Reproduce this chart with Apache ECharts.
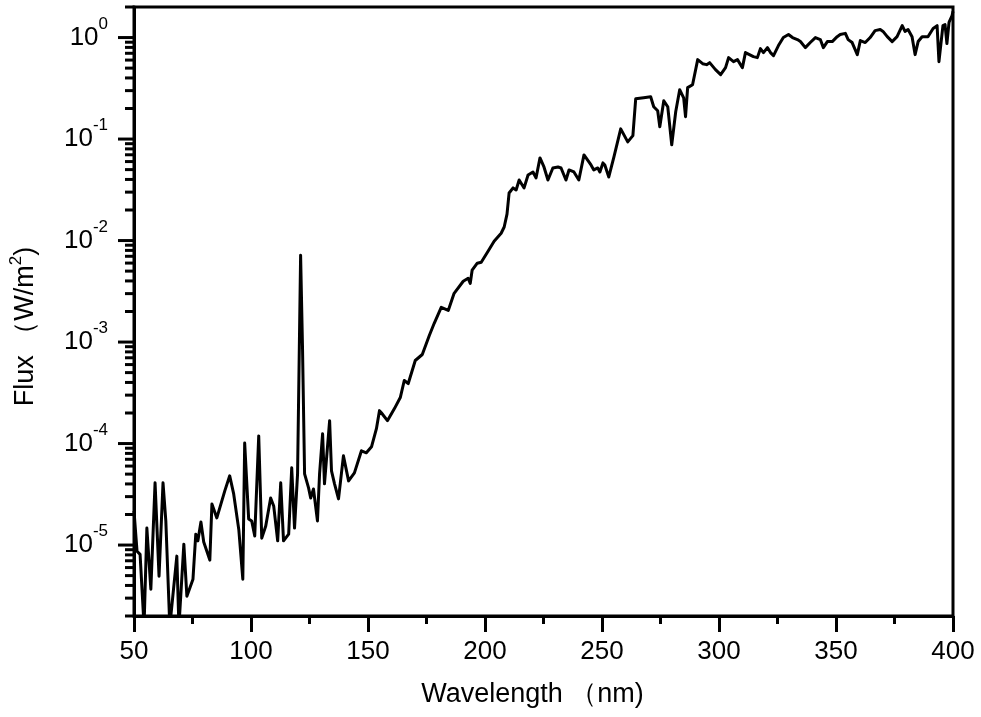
<!DOCTYPE html>
<html>
<head>
<meta charset="utf-8">
<script src="https://cdn.jsdelivr.net/npm/echarts@6/dist/echarts.min.js"></script>
<style>
  html, body { margin: 0; padding: 0; background: #fff; }
  #chart { width: 981px; height: 717px; }
</style>
</head>
<body>
<div id="chart"></div>
<script>
// Wavelength (nm)
const wavelength = [
  50.0, 51.3, 52.6, 54.3, 55.5, 57.2, 59.0, 60.7, 62.4, 63.6,
  65.3, 68.3, 69.2, 71.3, 72.6, 75.2, 76.4, 77.3, 78.6, 79.8,
  82.4, 83.3, 85.4, 88.8, 90.9, 92.6, 94.8, 96.5, 97.3, 99.0,
  100.3, 101.6, 103.3, 104.6, 106.3, 108.4, 109.7, 111.4, 112.7, 113.9,
  116.1, 117.4, 118.6, 119.9, 121.2, 122.0, 122.9, 124.6, 125.5, 126.7,
  128.4, 129.3, 130.6, 131.4, 133.6, 134.4, 135.7, 137.4, 139.5, 141.7,
  144.2, 147.2, 149.3, 151.5, 153.6, 154.9, 155.7, 158.3, 161.3, 163.8,
  165.5, 167.2, 170.2, 173.2, 176.2, 178.3, 181.3, 184.3, 186.8, 190.7,
  192.8, 193.7, 194.5, 196.7, 198.4, 201.3, 203.9, 206.9, 208.2, 209.4,
  210.3, 212.0, 213.3, 214.6, 216.7, 218.4, 220.5, 221.8, 223.5, 225.2,
  226.9, 229.0, 231.2, 232.5, 234.6, 235.9, 238.0, 240.1, 242.3, 245.3,
  246.5, 248.2, 249.1, 250.4, 251.2, 252.9, 255.1, 258.0, 261.0, 263.2,
  264.4, 267.8, 270.8, 272.1, 273.8, 274.7, 276.4, 278.1, 279.8, 281.5,
  283.2, 284.9, 285.7, 286.6, 288.7, 290.9, 293.0, 294.7, 296.0, 298.5,
  300.7, 302.8, 304.1, 306.2, 307.9, 310.0, 311.3, 313.0, 314.7, 316.4,
  317.7, 319.0, 320.7, 322.0, 323.3, 325.4, 327.5, 329.7, 331.4, 333.5,
  334.8, 336.9, 339.0, 341.2, 343.3, 344.6, 346.3, 348.4, 350.5, 351.8,
  354.0, 355.2, 356.9, 359.1, 360.4, 362.5, 364.6, 366.7, 368.9, 370.1,
  371.9, 374.0, 376.1, 378.3, 379.5, 380.8, 382.5, 383.8, 385.1, 386.8,
  389.3, 391.5, 393.2, 394.0, 395.7, 396.6, 397.4, 398.3, 399.6, 400.0
];

// Flux (W/m^2)
const flux = [
  2.17e-5, 8.7e-6, 8.1e-6, 1.58e-6, 1.47e-5, 3.67e-6, 4.1e-5, 4.94e-6, 4.1e-5, 1.73e-5,
  1.58e-6, 7.78e-6, 1.58e-6, 1.02e-5, 3.13e-6, 4.61e-6, 1.28e-5, 1.10e-5, 1.69e-5, 1.07e-5,
  7.11e-6, 2.54e-5, 1.85e-5, 3.42e-5, 4.81e-5, 3.19e-5, 1.41e-5, 4.61e-6, 1.01e-4, 1.81e-5,
  1.73e-5, 1.23e-5, 1.19e-4, 1.17e-5, 1.54e-5, 2.91e-5, 2.43e-5, 1.10e-5, 4.1e-5, 1.10e-5,
  1.28e-5, 5.77e-5, 1.47e-5, 5.03e-5, 7.17e-3, 9.25e-4, 5.03e-5, 3.66e-5, 2.91e-5, 3.57e-5,
  1.73e-5, 5.03e-5, 1.25e-4, 4.01e-5, 1.68e-4, 5.38e-5, 4.01e-5, 2.85e-5, 7.57e-5, 4.29e-5,
  5.14e-5, 8.49e-5, 8.11e-5, 9.29e-5, 1.40e-4, 2.11e-4, 2.01e-4, 1.68e-4, 2.21e-4, 2.84e-4,
  4.18e-4, 3.90e-4, 6.58e-4, 7.54e-4, 1.16e-3, 1.53e-3, 2.20e-3, 2.05e-3, 3.02e-3, 3.97e-3,
  4.25e-3, 3.79e-3, 5.10e-3, 5.98e-3, 6.12e-3, 7.85e-3, 9.86e-3, 1.18e-2, 1.36e-2, 1.82e-2,
  2.94e-2, 3.30e-2, 3.15e-2, 3.95e-2, 3.30e-2, 4.43e-2, 4.74e-2, 4.14e-2, 6.52e-2, 5.31e-2,
  3.95e-2, 5.19e-2, 5.31e-2, 5.19e-2, 3.95e-2, 4.96e-2, 4.74e-2, 3.95e-2, 6.98e-2, 5.56e-2,
  4.96e-2, 5.19e-2, 4.74e-2, 5.82e-2, 5.56e-2, 4.23e-2, 6.67e-2, 1.26e-1, 9.38e-2, 1.08e-1,
  2.49e-1, 2.55e-1, 2.61e-1, 2.08e-1, 1.90e-1, 1.32e-1, 2.38e-1, 2.08e-1, 8.77e-2, 1.86e-1,
  3.06e-1, 2.55e-1, 1.66e-1, 3.21e-1, 3.43e-1, 6.06e-1, 5.53e-1, 5.41e-1, 5.66e-1, 4.83e-1,
  4.31e-1, 5.05e-1, 6.34e-1, 5.79e-1, 6.06e-1, 5.05e-1, 7.11e-1, 6.79e-1, 6.49e-1, 6.34e-1,
  7.78e-1, 7.11e-1, 7.96e-1, 7.11e-1, 6.64e-1, 8.34e-1, 1.00, 1.07, 1.00, 0.955,
  0.913, 0.796, 0.893, 1.00, 0.955, 0.796, 0.913, 0.913, 1.02, 1.07,
  1.10, 0.955, 0.893, 0.679, 0.934, 0.893, 1.00, 1.17, 1.20, 1.15,
  1.02, 0.913, 1.02, 1.31, 1.15, 1.20, 1.02, 0.679, 0.913, 1.02,
  1.02, 1.23, 1.31, 0.579, 1.31, 1.34, 0.873, 1.41, 1.65, 1.81
];

// Axis ranges and tick labels
const xMin = 50, xMax = 400, xStep = 50;
const yMin = 2e-6, yMax = 2;
const yDecades = [1e-6, 1e-5, 1e-4, 1e-3, 1e-2, 1e-1, 1];
const yMinorSteps = [2, 3, 4, 5, 6, 7, 8, 9];

const FONT = '"Liberation Sans", Arial, sans-serif';

// y-axis tick list (major at powers of ten, minor at 2..9 x decade)
const yTicks = [];
yDecades.forEach(d => {
  if (d >= yMin && d <= yMax) yTicks.push([xMin, d, 1]);
  yMinorSteps.forEach(m => {
    const v = m * d;
    if (v >= yMin * 0.999 && v <= yMax * 1.001) yTicks.push([xMin, v, 0]);
  });
});

const seriesData = wavelength.map((w, i) => [w, flux[i]]);

const chart = echarts.init(document.getElementById('chart'), null, { renderer: 'canvas' });
chart.setOption({
  animation: false,
  backgroundColor: '#fff',
  grid: {
    left: 132, right: 28, top: 7, bottom: 101,
    show: true, borderColor: '#000', borderWidth: 3, backgroundColor: 'transparent'
  },
  xAxis: {
    type: 'value', min: xMin, max: xMax, interval: xStep,
    name: 'Wavelength （nm)',
    nameLocation: 'middle', nameGap: 65,
    nameTextStyle: { fontFamily: FONT, fontSize: 27, color: '#000', padding: [0, 22, 0, 0] },
    axisLine: { show: true, lineStyle: { color: '#000', width: 3 } },
    axisTick: { show: true, inside: false, length: 16, lineStyle: { color: '#000', width: 3 } },
    minorTick: { show: true, splitNumber: 2, length: 8, lineStyle: { color: '#000', width: 3 } },
    axisLabel: { fontFamily: FONT, fontSize: 26, color: '#000', margin: 23 },
    splitLine: { show: false }, minorSplitLine: { show: false }
  },
  yAxis: {
    type: 'log', logBase: 10, min: yMin, max: yMax,
    name: 'Flux （W/m{sup|2})',
    nameLocation: 'middle', nameGap: 90, nameRotate: 90,
    nameTextStyle: {
      fontFamily: FONT, fontSize: 27, color: '#000', lineHeight: 36, padding: [0, 30, 0, 0],
      rich: { sup: { fontFamily: FONT, fontSize: 17, color: '#000', verticalAlign: 'top', lineHeight: 36 } }
    },
    axisLine: { show: true, lineStyle: { color: '#000', width: 3 } },
    axisTick: { show: false },
    minorTick: { show: false },
    splitLine: { show: false }, minorSplitLine: { show: false },
    axisLabel: {
      margin: 26, showMinLabel: false, showMaxLabel: false,
      formatter: function (v) {
        const e = Math.log10(v);
        const r = Math.round(e);
        if (Math.abs(e - r) > 1e-6) return '';
        return '{b|10}{s|' + r + '}';
      },
      rich: {
        b: { fontFamily: FONT, fontSize: 26, color: '#000', lineHeight: 44, verticalAlign: 'middle' },
        s: { fontFamily: FONT, fontSize: 17, color: '#000', lineHeight: 44, verticalAlign: 'top' }
      }
    }
  },
  series: [
    {
      type: 'line',
      data: seriesData,
      showSymbol: false,
      clip: true,
      lineStyle: { color: '#000', width: 3, join: 'round' },
      z: 3
    },
    {
      type: 'custom',
      data: yTicks,
      silent: true,
      clip: false,
      z: 4,
      renderItem: function (params, api) {
        const p = api.coord([api.value(0), api.value(1)]);
        const len = api.value(2) ? 16 : 9;
        return {
          type: 'line',
          shape: { x1: p[0] - len, y1: p[1], x2: p[0], y2: p[1] },
          style: { stroke: '#000', lineWidth: 3 }
        };
      }
    }
  ]
});
</script>
</body>
</html>
